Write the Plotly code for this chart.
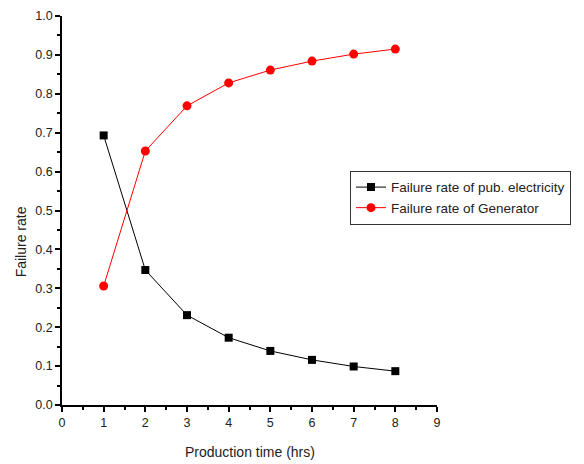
import plotly.graph_objects as go

hours = [1, 2, 3, 4, 5, 6, 7, 8]
pub_electricity = [0.693, 0.347, 0.231, 0.173, 0.139, 0.116, 0.099, 0.087]
generator = [0.306, 0.653, 0.769, 0.828, 0.861, 0.884, 0.902, 0.915]

FONT = "Liberation Sans, Arial, sans-serif"

fig = go.Figure()
fig.add_trace(go.Scatter(
    x=hours, y=pub_electricity, mode="lines+markers",
    name="Failure rate of pub. electricity",
    line=dict(color="black", width=1),
    marker=dict(symbol="square", size=8, color="black"),
))
fig.add_trace(go.Scatter(
    x=hours, y=generator, mode="lines+markers",
    name="Failure rate of Generator",
    line=dict(color="red", width=1),
    marker=dict(symbol="circle", size=9, color="red"),
))

axis_common = dict(
    showgrid=False, zeroline=False, showline=True, linecolor="black", linewidth=1.5,
    ticks="outside", ticklen=5, tickwidth=1.5, tickcolor="black",
    tickfont=dict(family=FONT, size=12.5, color="#222"),
    automargin=False,
)
fig.update_xaxes(range=[0, 9], tick0=0, dtick=1,
                 minor=dict(ticks="outside", ticklen=3, tickwidth=1.5, dtick=0.5, tickcolor="black"),
                 **axis_common)
fig.update_yaxes(range=[0, 1.0], tick0=0, dtick=0.1, tickformat=".1f",
                 minor=dict(ticks="outside", ticklen=3, tickwidth=1.5, dtick=0.05, tickcolor="black"),
                 **axis_common)

fig.add_annotation(text="Failure rate", xref="paper", yref="paper", x=-0.11, y=0.42,
                   textangle=-90, showarrow=False, xanchor="center", yanchor="middle",
                   font=dict(family=FONT, size=14, color="#222"))
fig.add_annotation(text="Production time (hrs)", xref="paper", yref="paper", x=0.5, y=-0.12,
                   showarrow=False, xanchor="center", yanchor="middle",
                   font=dict(family=FONT, size=14, color="#222"))

fig.update_layout(
    width=584, height=464,
    margin=dict(l=62, r=147, t=16, b=59),
    plot_bgcolor="white", paper_bgcolor="white",
    legend=dict(x=0.768, y=0.602, xanchor="left", yanchor="top",
                bordercolor="#333", borderwidth=1, bgcolor="white",
                font=dict(family=FONT, size=13.5, color="#222"),
                tracegroupgap=0, itemsizing="trace"),
)

fig.write_html("out.html")
